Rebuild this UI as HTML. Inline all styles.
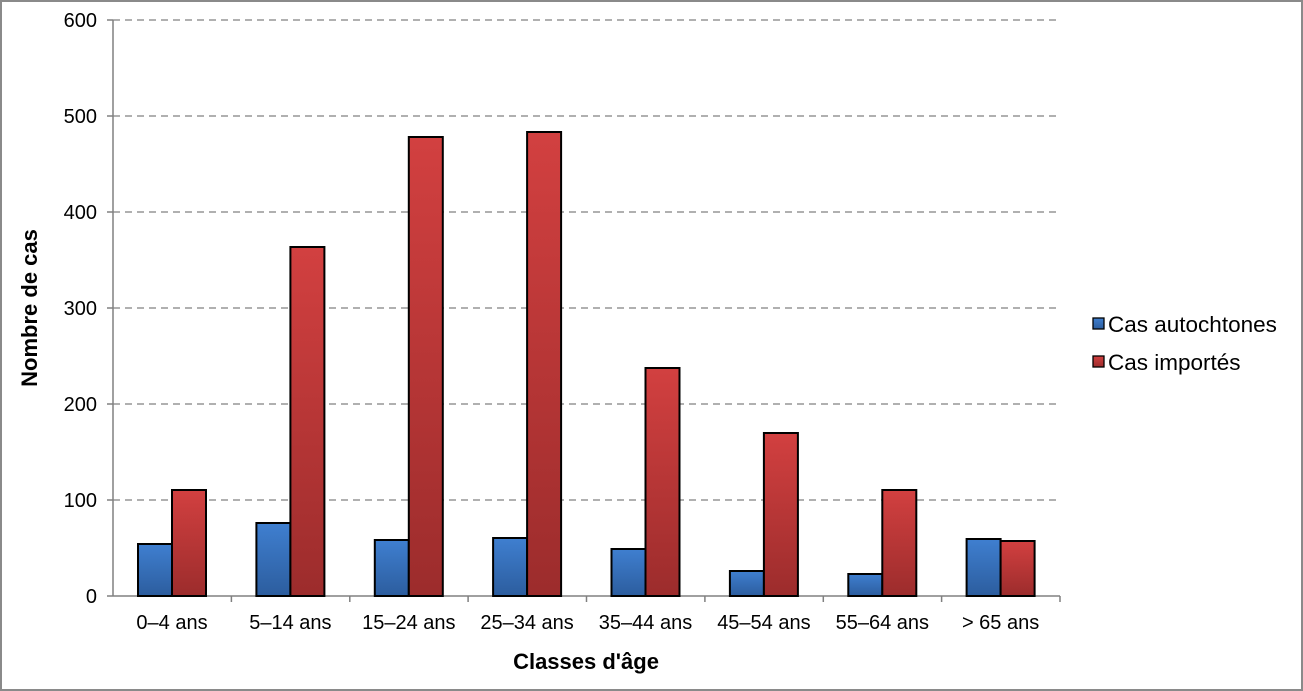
<!DOCTYPE html>
<html><head><meta charset="utf-8"><style>
html,body{margin:0;padding:0;background:#fff}
svg{display:block}
text{font-family:"Liberation Sans",Arial,sans-serif;fill:#000}
</style></head><body>
<svg width="1303" height="691" viewBox="0 0 1303 691" xmlns="http://www.w3.org/2000/svg">
<defs>
<linearGradient id="gb" x1="0" y1="0" x2="0" y2="1"><stop offset="0" stop-color="#3f7fd0"/><stop offset="1" stop-color="#2c5d9e"/></linearGradient>
<linearGradient id="gr" x1="0" y1="0" x2="0" y2="1"><stop offset="0" stop-color="#d24040"/><stop offset="1" stop-color="#9c2c2c"/></linearGradient>
</defs>
<rect x="1" y="1" width="1301" height="689" fill="#fff" stroke="#8a8a8a" stroke-width="2"/>
<g stroke="#808080" stroke-width="1.3" stroke-dasharray="7,5">
<line x1="113" y1="20" x2="1060" y2="20"/><line x1="113" y1="116" x2="1060" y2="116"/>
<line x1="113" y1="212" x2="1060" y2="212"/><line x1="113" y1="308" x2="1060" y2="308"/>
<line x1="113" y1="404" x2="1060" y2="404"/><line x1="113" y1="500" x2="1060" y2="500"/>
</g>
<g stroke="#808080" stroke-width="1.5">
<line x1="113" y1="20" x2="113" y2="596"/><line x1="107" y1="596" x2="1060" y2="596"/>
<line x1="107" y1="20" x2="113" y2="20"/><line x1="107" y1="116" x2="113" y2="116"/><line x1="107" y1="212" x2="113" y2="212"/><line x1="107" y1="308" x2="113" y2="308"/><line x1="107" y1="404" x2="113" y2="404"/><line x1="107" y1="500" x2="113" y2="500"/>
<line x1="231.4" y1="596" x2="231.4" y2="602"/><line x1="349.8" y1="596" x2="349.8" y2="602"/><line x1="468.1" y1="596" x2="468.1" y2="602"/><line x1="586.5" y1="596" x2="586.5" y2="602"/><line x1="704.9" y1="596" x2="704.9" y2="602"/><line x1="823.3" y1="596" x2="823.3" y2="602"/><line x1="941.6" y1="596" x2="941.6" y2="602"/><line x1="1060" y1="596" x2="1060" y2="602"/>
</g>
<g stroke="#000" stroke-width="2">
<rect x="138" y="544" width="34" height="52" fill="url(#gb)"/><rect x="172" y="490" width="34" height="106" fill="url(#gr)"/>
<rect x="256.4" y="523" width="34" height="73" fill="url(#gb)"/><rect x="290.4" y="247" width="34" height="349" fill="url(#gr)"/>
<rect x="374.8" y="540" width="34" height="56" fill="url(#gb)"/><rect x="408.8" y="137" width="34" height="459" fill="url(#gr)"/>
<rect x="493.1" y="538" width="34" height="58" fill="url(#gb)"/><rect x="527.1" y="132" width="34" height="464" fill="url(#gr)"/>
<rect x="611.5" y="549" width="34" height="47" fill="url(#gb)"/><rect x="645.5" y="368" width="34" height="228" fill="url(#gr)"/>
<rect x="729.9" y="571" width="34" height="25" fill="url(#gb)"/><rect x="763.9" y="433" width="34" height="163" fill="url(#gr)"/>
<rect x="848.3" y="574" width="34" height="22" fill="url(#gb)"/><rect x="882.3" y="490" width="34" height="106" fill="url(#gr)"/>
<rect x="966.6" y="539" width="34" height="57" fill="url(#gb)"/><rect x="1000.6" y="541" width="34" height="55" fill="url(#gr)"/>
</g>
<g font-size="20" text-anchor="end">
<text x="97" y="27">600</text><text x="97" y="123">500</text><text x="97" y="219">400</text><text x="97" y="315">300</text><text x="97" y="411">200</text><text x="97" y="507">100</text><text x="97" y="603">0</text>
</g>
<g font-size="20" text-anchor="middle">
<text x="172" y="629">0–4 ans</text><text x="290.4" y="629">5–14 ans</text><text x="408.8" y="629">15–24 ans</text><text x="527.1" y="629">25–34 ans</text><text x="645.5" y="629">35–44 ans</text><text x="763.9" y="629">45–54 ans</text><text x="882.3" y="629">55–64 ans</text><text x="1000.6" y="629">&gt; 65 ans</text>
</g>
<text x="586" y="669" font-size="22" font-weight="bold" text-anchor="middle">Classes d'âge</text>
<text transform="translate(37,308) rotate(-90)" font-size="22" font-weight="bold" text-anchor="middle">Nombre de cas</text>
<rect x="1093" y="318" width="11" height="11" fill="url(#gb)" stroke="#000" stroke-width="1.3"/>
<text x="1108" y="332" font-size="22.5">Cas autochtones</text>
<rect x="1093" y="356" width="11" height="11" fill="url(#gr)" stroke="#000" stroke-width="1.3"/>
<text x="1108" y="370" font-size="22.5">Cas importés</text>
</svg>
</body></html>
